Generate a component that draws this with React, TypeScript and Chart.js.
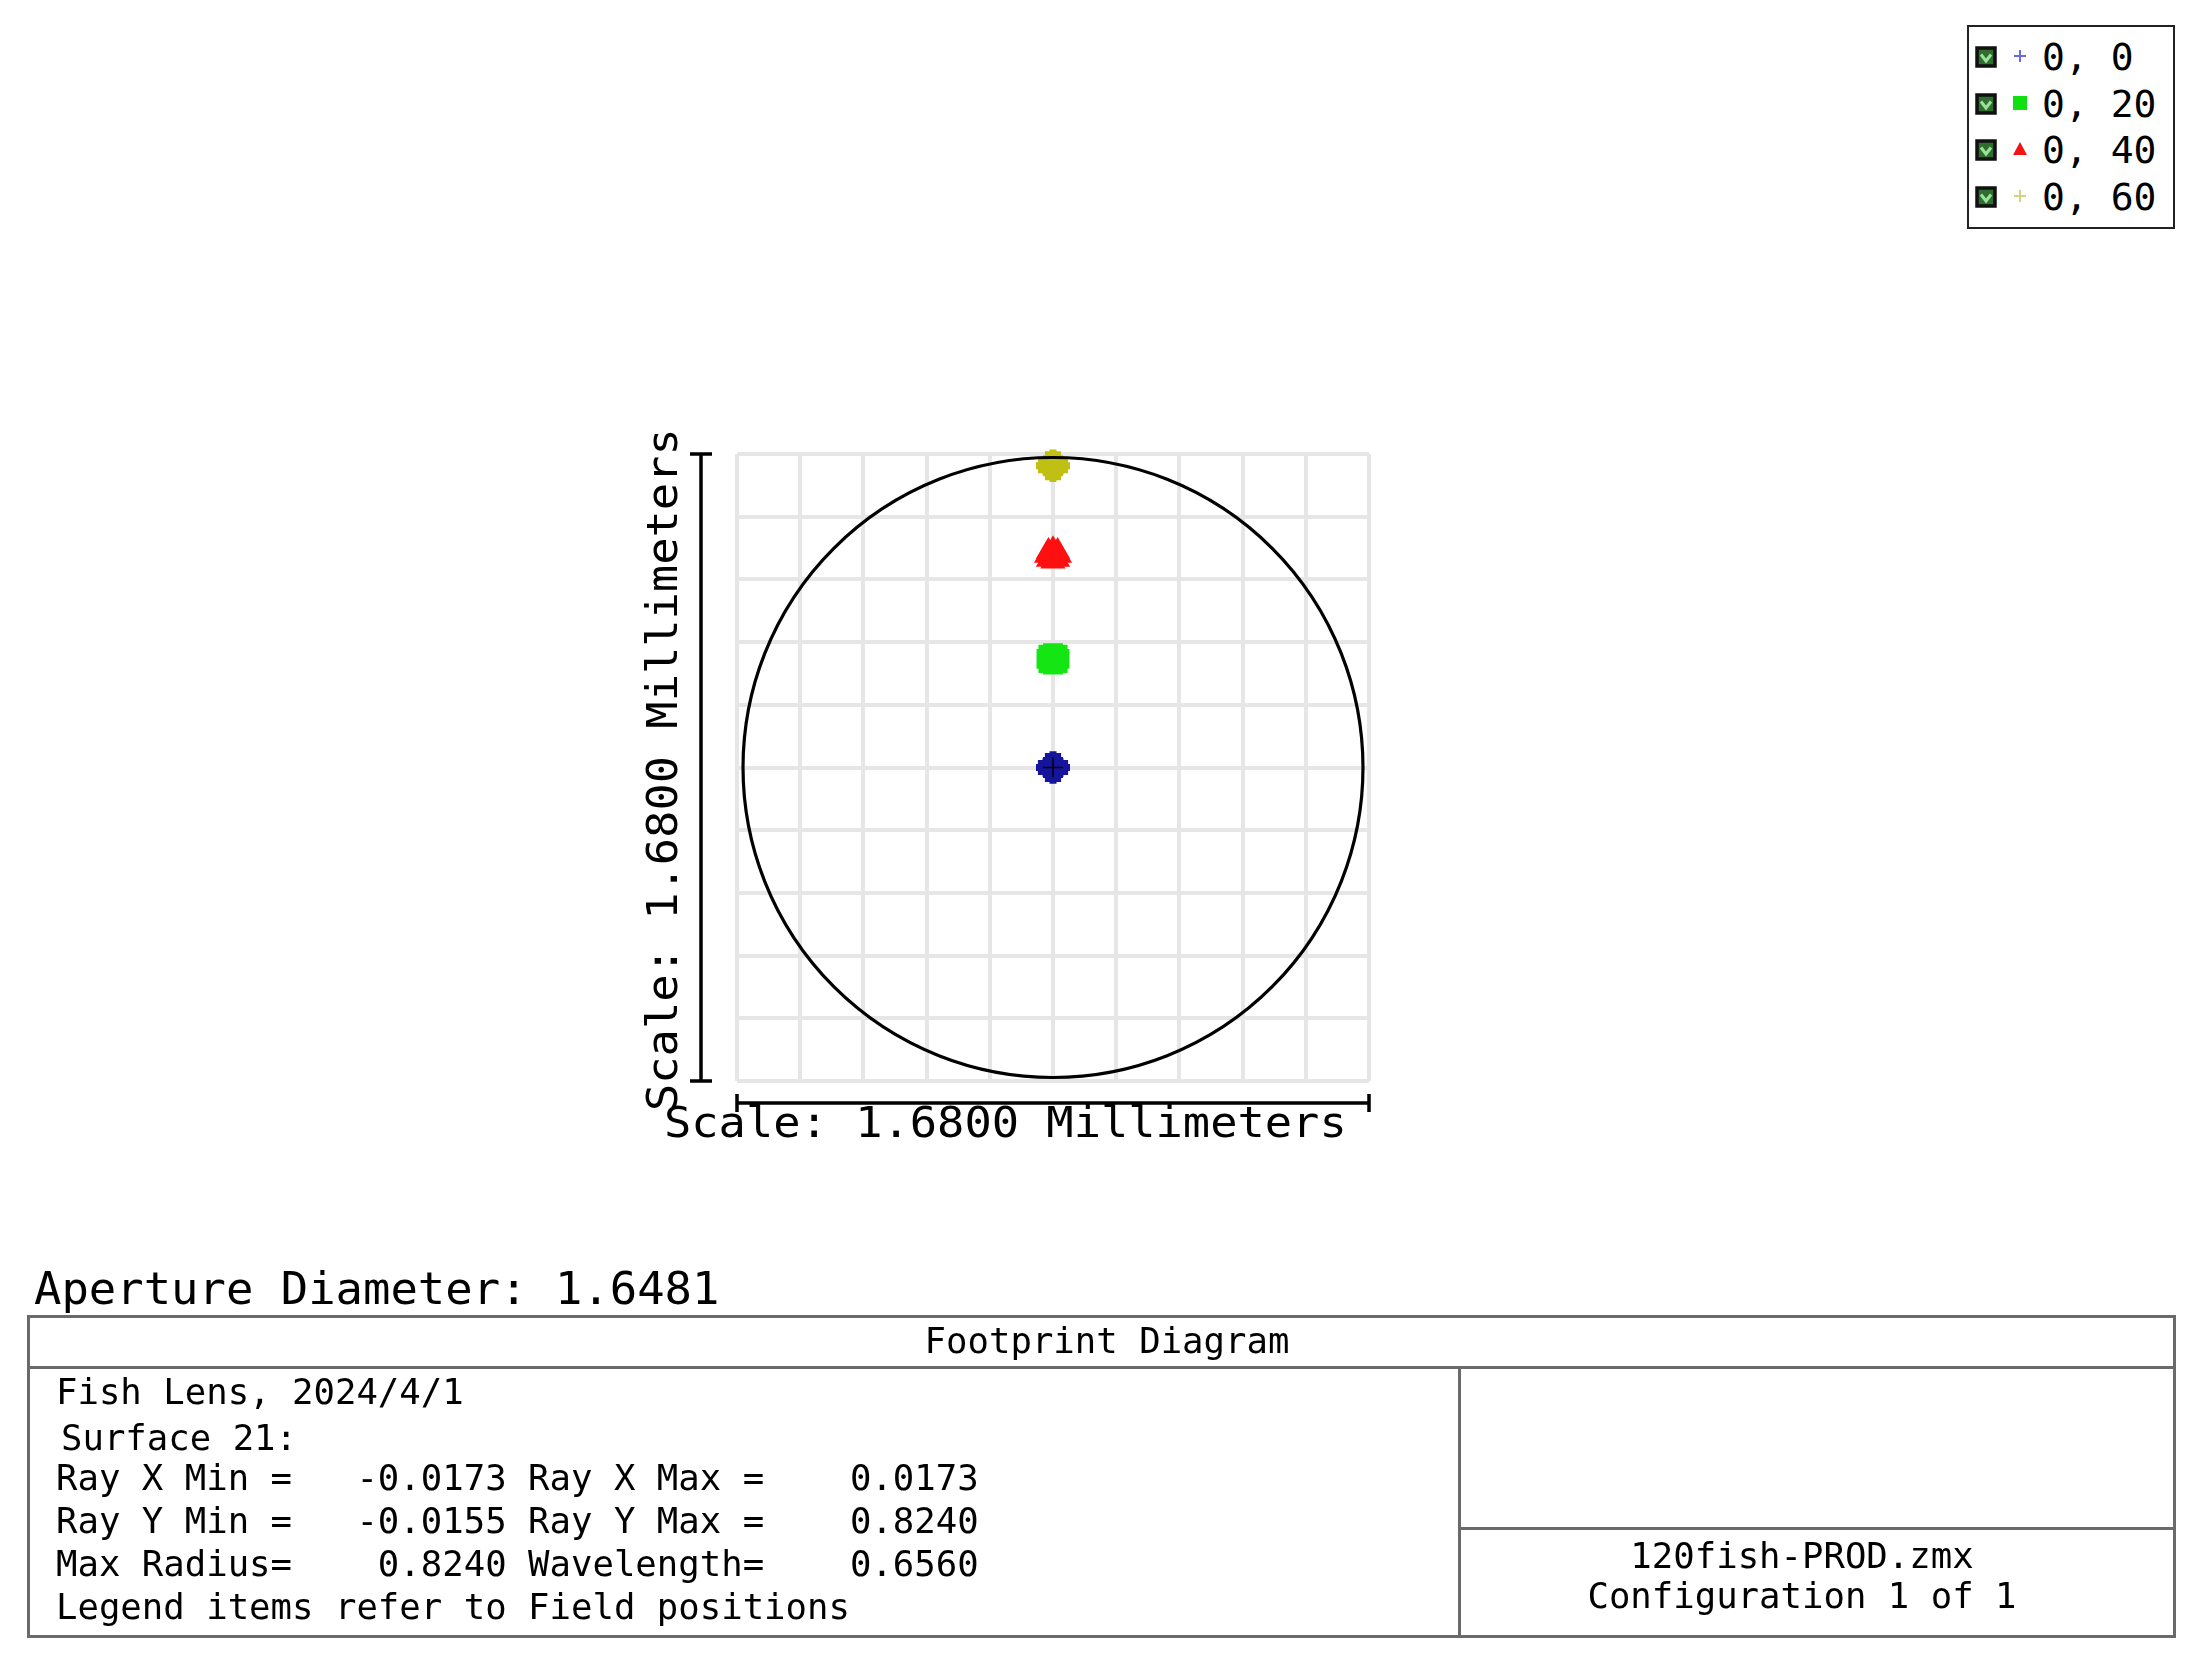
import React, { useEffect, useRef } from "react";
import { Chart, registerables } from "chart.js";

Chart.register(...registerables);

const PAGE_W = 2202;
const PAGE_H = 1663;

// ---- data ----
const FIELD_LABELS = ["0, 0", "0, 20", "0, 40", "0, 60"];

// ray footprints (mm) of each field on surface 21
const RAYS_F0_X = [0, 0.0173, -0.0173, 0, 0, 0.0122, -0.0122, 0.0122, -0.0122];
const RAYS_F0_Y = [0, 0, 0, 0.0155, -0.0155, 0.011, 0.011, -0.011, -0.011];
const RAYS_F1_X = [0, 0.0173, -0.0173, 0, 0, 0.0122, -0.0122, 0.0122, -0.0122];
const RAYS_F1_Y = [0.291, 0.291, 0.291, 0.3065, 0.2755, 0.302, 0.302, 0.28, 0.28];
const RAYS_F2_X = [0, 0.0173, -0.0173, 0, 0, 0.0122, -0.0122, 0.0122, -0.0122];
const RAYS_F2_Y = [0.568, 0.568, 0.568, 0.5835, 0.5525, 0.579, 0.579, 0.557, 0.557];
const RAYS_F3_X = [0, 0.0173, -0.0173, 0, 0, 0.0122, -0.0122, 0.0122, -0.0122];
const RAYS_F3_Y = [0.8085, 0.8085, 0.8085, 0.824, 0.793, 0.8195, 0.8195, 0.7975, 0.7975];

const APERTURE_RADIUS = 0.824;
const AXIS_MIN = -0.84;
const AXIS_MAX = 0.84;
const GRID_TICKS = [-0.84, -0.672, -0.504, -0.336, -0.168, 0, 0.168, 0.336, 0.504, 0.672, 0.84];
const SCALE_LABEL = "Scale: 1.6800 Millimeters";

const APERTURE_TEXT = "Aperture Diameter: 1.6481";
const TABLE_TITLE = "Footprint Diagram";
const INFO_LINES = [
  "Fish Lens, 2024/4/1",
  "Surface 21:",
  "Ray X Min =   -0.0173 Ray X Max =    0.0173",
  "Ray Y Min =   -0.0155 Ray Y Max =    0.8240",
  "Max Radius=    0.8240 Wavelength=    0.6560",
  "Legend items refer to Field positions",
];
const FILE_LINES = ["120fish-PROD.zmx", "Configuration 1 of 1"];

// ---- styles ----
const PLOT_COLORS = ["#14149c", "#14e614", "#ff1010", "#c0c014"];
const LEGEND_COLORS = ["#6a6ae8", "#10e010", "#f01414", "#d4d47c"];
const POINT_STYLES = ["cross", "rect", "triangle", "cross"];
const POINT_RADII = [10.5, 13, 12, 10.5];
const POINT_BORDERS = [7, 1.5, 2.5, 7];
const MONO = '"DejaVu Sans Mono", monospace';

const footprintPlugin = {
  id: "footprint",
  afterDatasetsDraw(chart: any) {
    const ctx = chart.ctx;
    const xs = chart.scales.x;
    const ys = chart.scales.y;
    const cx = xs.getPixelForValue(0);
    const cy = ys.getPixelForValue(0);
    const r = xs.getPixelForValue(APERTURE_RADIUS) - cx;
    ctx.save();
    // chief-ray mark on the on-axis footprint
    ctx.strokeStyle = "#000";
    ctx.lineWidth = 1.5;
    ctx.beginPath();
    ctx.moveTo(cx - 10, cy);
    ctx.lineTo(cx + 10, cy);
    ctx.moveTo(cx, cy - 10);
    ctx.lineTo(cx, cy + 10);
    ctx.stroke();
    // aperture circle
    ctx.lineWidth = 3.2;
    ctx.beginPath();
    ctx.arc(cx, cy, r, 0, Math.PI * 2);
    ctx.stroke();
    ctx.restore();
  },
  afterDraw(chart: any) {
    const ctx = chart.ctx;
    const { left, right, top, bottom } = chart.chartArea;
    ctx.save();
    ctx.strokeStyle = "#000";
    ctx.lineWidth = 3.5;
    // vertical scale bar
    const bx = left - 36;
    ctx.beginPath();
    ctx.moveTo(bx, top);
    ctx.lineTo(bx, bottom);
    ctx.moveTo(bx - 11, top);
    ctx.lineTo(bx + 11, top);
    ctx.moveTo(bx - 11, bottom);
    ctx.lineTo(bx + 11, bottom);
    // horizontal scale bar
    const by = bottom + 22;
    ctx.moveTo(left, by);
    ctx.lineTo(right, by);
    ctx.moveTo(left, by - 9);
    ctx.lineTo(left, by + 9);
    ctx.moveTo(right, by - 9);
    ctx.lineTo(right, by + 9);
    ctx.stroke();

    ctx.fillStyle = "#000";
    ctx.font = `42px ${MONO}`;
    ctx.textBaseline = "alphabetic";
    ctx.textAlign = "left";
    // horizontal label
    ctx.save();
    ctx.translate(left - 73, bottom + 56);
    ctx.scale(1.08, 1);
    ctx.fillText(SCALE_LABEL, 0, 0);
    ctx.restore();
    // vertical label
    ctx.save();
    ctx.translate(left - 60, bottom + 30);
    ctx.rotate(-Math.PI / 2);
    ctx.scale(1.08, 1);
    ctx.fillText(SCALE_LABEL, 0, 0);
    ctx.restore();
    ctx.restore();
  },
};

function Txt(props: { x: number; baseline: number; size: number; sx: number; text: string; center?: boolean }) {
  const { x, baseline, size, sx, text, center } = props;
  return (
    <div
      style={{
        position: "absolute",
        left: x,
        top: baseline - 0.846 * size,
        fontFamily: MONO,
        fontSize: size,
        lineHeight: `${size}px`,
        whiteSpace: "pre",
        color: "#000",
        transformOrigin: "0 0",
        transform: center ? `scaleX(${sx}) translateX(-50%)` : `scaleX(${sx})`,
      }}
    >
      {text}
    </div>
  );
}

function Line(props: { x: number; y: number; w: number; h: number }) {
  return (
    <div
      style={{
        position: "absolute",
        left: props.x,
        top: props.y,
        width: props.w,
        height: props.h,
        background: "#6a6a6a",
      }}
    />
  );
}

function LegendMarker({ i }: { i: number }) {
  const c = LEGEND_COLORS[i];
  if (i === 1) return <rect x={1} y={1} width={14} height={14} fill={c} />;
  if (i === 2) return <polygon points="8,1 15,14 1,14" fill={c} />;
  return (
    <g stroke={c} strokeWidth={2}>
      <line x1={2} y1={8} x2={14} y2={8} />
      <line x1={8} y1={2} x2={8} y2={14} />
    </g>
  );
}

export default function App() {
  const canvasRef = useRef<HTMLCanvasElement | null>(null);

  useEffect(() => {
    const fields = [
      [RAYS_F0_X, RAYS_F0_Y],
      [RAYS_F1_X, RAYS_F1_Y],
      [RAYS_F2_X, RAYS_F2_Y],
      [RAYS_F3_X, RAYS_F3_Y],
    ];
    const datasets = fields.map(([xs, ys], i) => ({
      label: FIELD_LABELS[i],
      data: xs.map((x, j) => ({ x, y: ys[j] })),
      pointStyle: POINT_STYLES[i] as any,
      pointRadius: POINT_RADII[i],
      pointBorderWidth: POINT_BORDERS[i],
      pointBorderColor: PLOT_COLORS[i],
      pointBackgroundColor: PLOT_COLORS[i],
      borderColor: PLOT_COLORS[i],
      backgroundColor: PLOT_COLORS[i],
      showLine: false,
      clip: false as any,
    }));
    const axis = () => ({
      type: "linear" as const,
      min: AXIS_MIN,
      max: AXIS_MAX,
      afterBuildTicks: (a: any) => {
        a.ticks = GRID_TICKS.map((v) => ({ value: v }));
      },
      ticks: { display: false },
      border: { display: false },
      grid: { color: "#e6e6e6", lineWidth: 4, drawTicks: false },
    });
    const chart = new Chart(canvasRef.current as HTMLCanvasElement, {
      type: "scatter",
      data: { datasets },
      options: {
        responsive: false,
        animation: false,
        events: [],
        layout: { padding: { left: 737, right: PAGE_W - 1369, top: 454, bottom: PAGE_H - 1081 } },
        plugins: { legend: { display: false }, tooltip: { enabled: false } },
        scales: { x: axis(), y: axis() },
      },
      plugins: [footprintPlugin],
    });
    return () => chart.destroy();
  }, []);

  const legendRows = [57, 104, 150, 197];

  return (
    <div
      style={{
        position: "absolute",
        left: 0,
        top: 0,
        width: PAGE_W,
        height: PAGE_H,
        overflow: "hidden",
        background: "#fff",
      }}
    >
      <canvas
        ref={canvasRef}
        width={PAGE_W}
        height={PAGE_H}
        style={{ position: "absolute", left: 0, top: 0, width: PAGE_W, height: PAGE_H }}
      />

      {/* legend */}
      <div
        style={{
          position: "absolute",
          left: 1967,
          top: 25,
          width: 208,
          height: 204,
          boxSizing: "border-box",
          border: "2px solid #222",
          background: "#fff",
        }}
      />
      {FIELD_LABELS.map((lab, i) => (
        <React.Fragment key={lab}>
          <svg
            style={{ position: "absolute", left: 1975, top: legendRows[i] - 11 }}
            width={22}
            height={22}
          >
            <rect x={2} y={2} width={18} height={18} fill="#2f6e2f" stroke="#111" strokeWidth={3.5} />
            <polyline points="6,8.5 11,15 16,8.5" fill="none" stroke="#9be09b" strokeWidth={3} />
          </svg>
          <svg
            style={{ position: "absolute", left: 2012, top: legendRows[i] - 9 }}
            width={16}
            height={16}
          >
            <LegendMarker i={i} />
          </svg>
          <Txt x={2042} baseline={legendRows[i] + 13} size={38} sx={1.0} text={lab} />
        </React.Fragment>
      ))}

      <Txt x={34} baseline={1304} size={44} sx={1.035} text={APERTURE_TEXT} />

      {/* info table */}
      <div
        style={{
          position: "absolute",
          left: 27,
          top: 1315,
          width: 2149,
          height: 323,
          boxSizing: "border-box",
          border: "3px solid #6a6a6a",
        }}
      />
      <Line x={27} y={1366} w={2149} h={3} />
      <Line x={1458} y={1366} w={3} h={272} />
      <Line x={1458} y={1527} w={718} h={3} />

      <Txt x={1107} baseline={1353} size={36} sx={0.99} text={TABLE_TITLE} center />
      {INFO_LINES.map((t, i) => (
        <Txt
          key={t}
          x={i === 1 ? 61 : 56}
          baseline={[1404, 1450, 1490, 1533, 1576, 1619][i]}
          size={36}
          sx={0.99}
          text={t}
        />
      ))}
      {FILE_LINES.map((t, i) => (
        <Txt key={t} x={1802} baseline={[1568, 1608][i]} size={36} sx={0.99} text={t} center />
      ))}
    </div>
  );
}
